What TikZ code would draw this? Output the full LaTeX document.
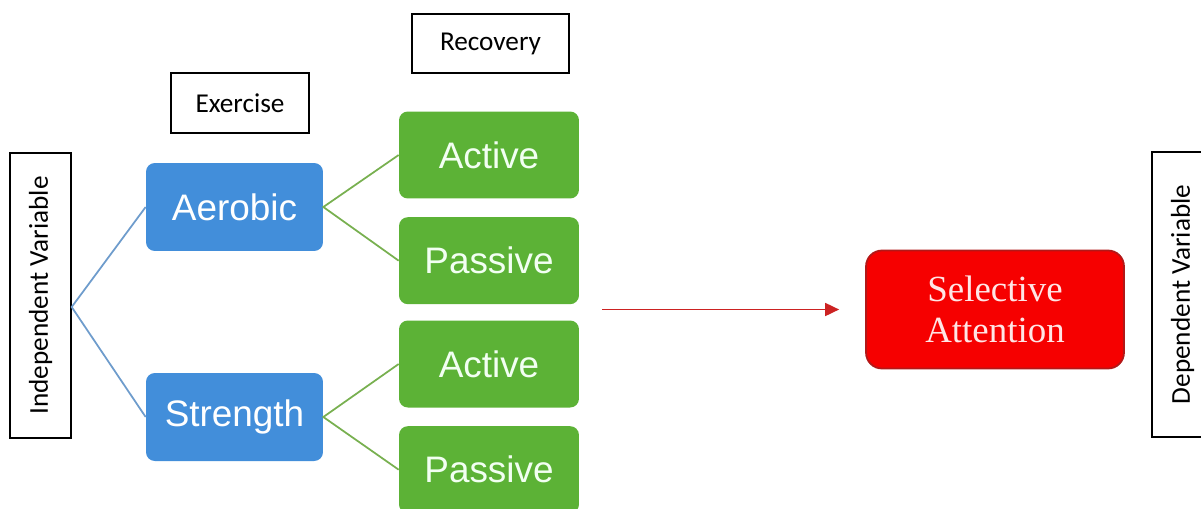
\documentclass[tikz,border=0pt]{standalone}
\usepackage{fontspec}
\setmainfont{Liberation Sans}
\newfontfamily\calibrifont{Carlito}
\newfontfamily\timesfont{Liberation Serif}
\usepackage{tikz}
\usetikzlibrary{positioning,arrows.meta,calc}
\definecolor{ExerciseBlue}{RGB}{66,142,218}
\definecolor{RecoveryGreen}{RGB}{92,178,54}
\definecolor{AttentionRed}{RGB}{246,0,0}
\definecolor{AttentionEdge}{RGB}{178,24,24}
\definecolor{BlueLink}{RGB}{110,156,204}
\definecolor{GreenLink}{RGB}{120,176,80}
\definecolor{ArrowRed}{RGB}{204,34,34}
\tikzset{
  labelbox/.style={draw=black,thick,fill=white,inner sep=0pt,align=center,
    font=\calibrifont\fontsize{15.5}{18}\selectfont},
  bluebox/.style={draw=none,fill=ExerciseBlue,rounded corners=5pt,text=white,
    minimum width=3.54cm,minimum height=1.76cm,inner sep=0pt,
    font=\fontsize{21}{24}\selectfont},
  greenbox/.style={draw=none,fill=RecoveryGreen,rounded corners=5pt,text=white!95!green,
    minimum width=3.6cm,minimum height=1.74cm,inner sep=0pt,
    font=\fontsize{21}{24}\selectfont},
  redbox/.style={draw=AttentionEdge,line width=1pt,fill=AttentionRed,rounded corners=9pt,
    text=white!90!red,minimum width=5.16cm,minimum height=2.36cm,align=center,
    font=\timesfont\fontsize{21}{23}\selectfont},
  bluelink/.style={draw=BlueLink,line width=1pt},
  greenlink/.style={draw=GreenLink,line width=1pt},
  redflow/.style={-{Triangle[length=2.8mm,width=2.6mm]},draw=ArrowRed,fill=ArrowRed,line width=1pt}
}
\begin{document}
\begin{tikzpicture}[x=0.02cm,y=-0.02cm,node distance=0.36cm]
  \useasboundingbox (0,0) rectangle (1201,508);
  % headings
  \node[labelbox,minimum width=1.22cm,minimum height=5.7cm] (indep) at (40.5,295.5) {\rotatebox{90}{Independent Variable}};
  \node[labelbox,minimum width=2.76cm,minimum height=1.2cm] (exercise) at (240,103) {Exercise};
  \node[labelbox,minimum width=3.14cm,minimum height=1.18cm] (recovery) at (490.5,43.5) {Recovery};
  \node[labelbox,minimum width=1.22cm,minimum height=5.7cm] (dep) at (1182.5,294.5) {\rotatebox{90}{Dependent Variable}};
  % exercise types
  \node[bluebox] (aerobic) at (234.5,207) {Aerobic};
  \node[bluebox] (strength) at (234.5,417) {Strength};
  % recovery types
  \node[greenbox] (active1) at (489,155) {Active};
  \node[greenbox,below=of active1] (passive1) {Passive};
  \node[greenbox] (active2) at (489,364) {Active};
  \node[greenbox,below=of active2] (passive2) {Passive};
  % outcome
  \node[redbox] (attention) at (995,309.5) {Selective\\Attention};
  \coordinate (ivjoint) at ($(indep.east)+(0,11.5)$);
  \coordinate (arrowstart) at (602,309.5);
  \draw[bluelink] (aerobic.west) -- (ivjoint) -- (strength.west);
  \draw[greenlink] (active1.west) -- (aerobic.east) -- (passive1.west);
  \draw[greenlink] (active2.west) -- (strength.east) -- (passive2.west);
  \draw[redflow] (arrowstart) -- ([xshift=-0.52cm]attention.west);
\end{tikzpicture}
\end{document}
